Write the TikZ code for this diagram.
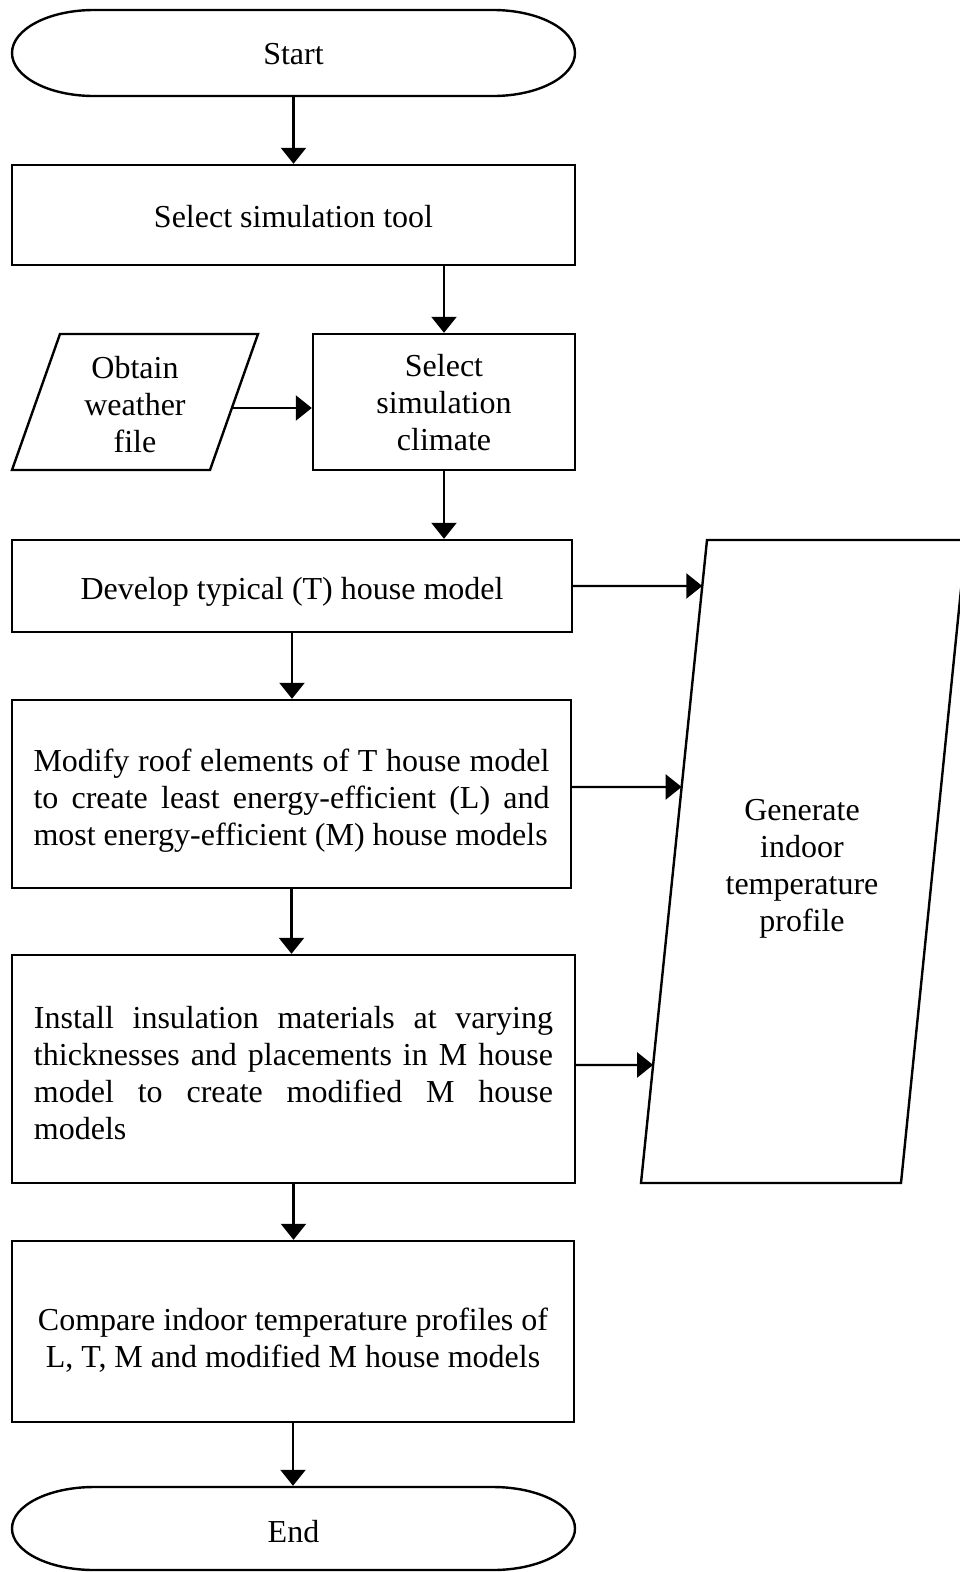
\documentclass[tikz,border=0pt]{standalone}
\usepackage{fontspec}
\setmainfont{Liberation Serif}
\usetikzlibrary{arrows.meta,calc}
\begin{document}
\begin{tikzpicture}[x=1pt,y=-1pt,line width=2.4pt,
  txt/.style={font=\fontsize{32pt}{37pt}\selectfont, inner sep=0pt, align=center},
  procbox/.style={draw, inner sep=0pt},
  arr/.style={-{Triangle[length=16pt,width=25pt]}, line width=2.4pt}]
\useasboundingbox (0,0) rectangle (960,1572);
\clip (0,0) rectangle (960,1572);
\fill[white] (0,0) rectangle (960,1572);

% Start terminal
\node[inner sep=0pt, minimum width=563pt, minimum height=86pt] (start) at (293.5,53) {};
\node[txt] (startT) at ([yshift=-1pt]start.center) {Start};
\draw (94,10) -- (493,10) arc[start angle=-90,end angle=90,x radius=82,y radius=43]
      -- (94,96) arc[start angle=90,end angle=270,x radius=82,y radius=43] -- cycle;

\node[procbox, minimum width=563pt, minimum height=100pt] (tool) at (293.5,215) {};
\node[txt] (toolT) at ([yshift=-2pt]tool.center) {Select simulation tool};

% Obtain weather file (parallelogram)
\node[txt] (weather) at (135,404.5) {Obtain\\weather\\file};
\draw (60,334) -- (258,334) -- (210,470) -- (12,470) -- cycle;
\coordinate (wE) at (233,408);

\node[procbox, minimum width=262pt, minimum height=136pt] (climate) at (444,402) {};
\node[txt] (climateT) at ([yshift=-1pt]climate.center) {Select\\simulation\\climate};

\node[procbox, minimum width=560pt, minimum height=92pt] (model) at (292,586) {};
\node[txt] (modelT) at ([yshift=-6pt]model.center) {Develop typical (T) house model};

\node[procbox, minimum width=559pt, minimum height=188pt] (roof) at (291.5,794) {};
\node[txt] (roofT) at ([yshift=-7pt]roof.center)
  {\makebox[516pt][s]{Modify roof elements of T house model}\\
   \makebox[516pt][s]{to create least energy-efficient (L) and}\\
   \makebox[516pt][l]{most energy-efficient (M) house models}};

\node[procbox, minimum width=563pt, minimum height=228pt] (insul) at (293.5,1069) {};
\node[txt] (insulT) at ([yshift=-4.5pt]insul.center)
  {\makebox[519pt][s]{Install insulation materials at varying}\\
   \makebox[519pt][s]{thicknesses and placements in M house}\\
   \makebox[519pt][s]{model to create modified M house}\\
   \makebox[519pt][l]{models}};

\node[procbox, minimum width=562pt, minimum height=181pt] (compare) at (293,1331.5) {};
\node[txt] (compareT) at ([yshift=-9pt]compare.center)
  {Compare indoor temperature profiles of\\L, T, M and modified M house models};

% End terminal
\node[inner sep=0pt, minimum width=563pt, minimum height=83pt] (stop) at (293.5,1528.5) {};
\node[txt] (stopT) at ([yshift=-3pt]stop.center) {End};
\draw (94,1487) -- (493,1487) arc[start angle=-90,end angle=90,x radius=82,y radius=41.5]
      -- (94,1570) arc[start angle=90,end angle=270,x radius=82,y radius=41.5] -- cycle;

% Generate indoor temperature profile (parallelogram)
\node[txt] (gen) at (802,869) {Generate\\indoor\\temperature\\profile};
\coordinate (gTL) at (707,540);
\coordinate (gTR) at (966,540);
\coordinate (gBR) at (901,1183);
\coordinate (gBL) at (641,1183);
\draw (gTL) -- (gTR) -- (gBR) -- (gBL) -- cycle;

% connectors
\draw[arr] (start.south) -- (tool.north);
\draw[arr] (tool.south -| climate.north) -- (climate.north);
\draw[arr] (wE) -- (wE -| climate.west);
\draw[arr] (climate.south) -- (climate.south |- model.north);
\draw[arr] (model.south) -- (model.south |- roof.north);
\draw[arr] (roof.south) -- (roof.south |- insul.north);
\draw[arr] (insul.south) -- (insul.south |- compare.north);
\draw[arr] (compare.south) -- (compare.south |- stop.north);

\coordinate (m1) at ($(model.east)+(300,0)$);
\coordinate (r1) at ($(roof.east)+(300,-7)$);
\coordinate (i1) at ($(insul.east)+(300,-4)$);
\coordinate (r0) at ($(roof.east)+(0,-7)$);
\coordinate (i0) at ($(insul.east)+(0,-4)$);
\draw[arr] (model.east) -- (intersection of model.east--m1 and gTL--gBL);
\draw[arr] (r0) -- (intersection of r0--r1 and gTL--gBL);
\draw[arr] (i0) -- (intersection of i0--i1 and gTL--gBL);
\end{tikzpicture}
\end{document}
